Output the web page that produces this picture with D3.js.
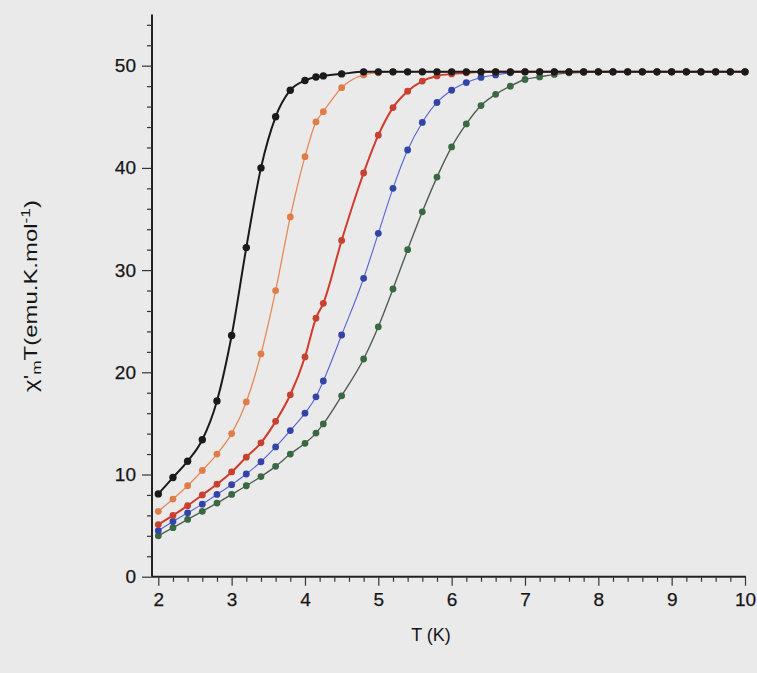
<!DOCTYPE html>
<html>
<head>
<meta charset="utf-8">
<script src="https://cdn.jsdelivr.net/npm/d3@7"></script>
<style>
  html, body { margin: 0; padding: 0; background: #eaeaea; }
  svg { display: block; }
  text { font-family: "Liberation Sans", Arial, sans-serif; fill: #161616; }
</style>
</head>
<body>
<svg id="chart" width="757" height="673"></svg>
<script>
// Temperatures (K)
const temps = [2.0,2.2,2.4,2.6,2.8,3.0,3.2,3.4,3.6,3.8,4.0,4.15,4.25,4.5,4.8,5.0,
  5.2,5.4,5.6,5.8,6.0,6.2,6.4,6.6,6.8,7.0,7.2,7.4,7.6,7.8,8.0,8.2,8.4,8.6,8.8,9.0,9.2,9.4,9.6,9.8,10.0];

// chi'm T values per series
const blackSeries = [8.1,9.7,11.3,13.4,17.2,23.6,32.2,40.0,45.0,47.6,48.55,48.9,49.0,49.2,49.4,49.4,
  49.4,49.4,49.4,49.4,49.4,49.4,49.4,49.4,49.4,49.4,49.4,49.4,49.4,49.4,49.4,49.4,49.4,49.4,49.4,49.4,49.4,49.4,49.4,49.4,49.4];
const orangeSeries = [6.4,7.6,8.9,10.4,12.0,14.0,17.1,21.8,28.0,35.2,41.1,44.5,45.5,47.85,49.1,49.3,
  49.4,49.4,49.4,49.4,49.4,49.4,49.4,49.4,49.4,49.4,49.4,49.4,49.4,49.4,49.4,49.4,49.4,49.4,49.4,49.4,49.4,49.4,49.4,49.4,49.4];
const redSeries = [5.1,6.0,6.95,8.0,9.05,10.25,11.7,13.1,15.2,17.8,21.5,25.3,26.75,32.9,39.5,43.2,
  45.9,47.5,48.5,49.0,49.2,49.3,49.4,49.4,49.4,49.4,49.4,49.4,49.4,49.4,49.4,49.4,49.4,49.4,49.4,49.4,49.4,49.4,49.4,49.4,49.4];
const blueSeries = [4.5,5.4,6.25,7.1,8.05,9.0,10.05,11.25,12.7,14.3,16.0,17.6,19.15,23.65,29.2,33.6,
  38.0,41.75,44.45,46.4,47.6,48.35,48.85,49.1,49.3,49.4,49.4,49.4,49.4,49.4,49.4,49.4,49.4,49.4,49.4,49.4,49.4,49.4,49.4,49.4,49.4];
const greenSeries = [4.0,4.8,5.6,6.4,7.2,8.05,8.9,9.8,10.8,12.0,13.05,14.05,14.95,17.7,21.3,24.45,
  28.15,32.0,35.7,39.1,42.05,44.3,46.1,47.2,48.0,48.65,48.9,49.15,49.3,49.35,49.4,49.4,49.4,49.4,49.4,49.4,49.4,49.4,49.4,49.4,49.4];

const xTicks = [2,3,4,5,6,7,8,9,10];
const yTicks = [0,10,20,30,40,50];

const seriesList = [
  {values: greenSeries,  line: "#4f5f52", dot: "#3a6842", lw: 1.4, r: 3.4},
  {values: blueSeries,   line: "#5563d0", dot: "#3443a8", lw: 1.1, r: 3.4},
  {values: redSeries,    line: "#d23a2c", dot: "#c8402f", lw: 2.0, r: 3.4},
  {values: orangeSeries, line: "#e58a5a", dot: "#e07c48", lw: 1.3, r: 3.4},
  {values: blackSeries,  line: "#1a1a1a", dot: "#1a1a1a", lw: 2.0, r: 3.7}
];

const svg = d3.select("#chart");
const x = d3.scaleLinear().domain([2, 10]).range([158.3, 745]);
const y = d3.scaleLinear().domain([0, 55]).range([576.7, 14.6]);
const axisX0 = 152; // y-axis horizontal position
const axisY0 = y(0);

function styleText(sel) {
  sel.attr("font-size", 19).attr("fill", "#161616")
    .attr("stroke", "#161616").attr("stroke-width", 0.25)
    .attr("font-family", "Liberation Sans, Arial, sans-serif");
}

// Y axis
const gy = svg.append("g").attr("transform", `translate(${axisX0},0)`);
gy.append("line").attr("x1",0).attr("x2",0).attr("y1",y(0)).attr("y2",y(55))
  .attr("stroke","#222").attr("stroke-width",2);
gy.call(g => {
  const minor = d3.axisLeft(y).tickValues(d3.range(2, 55, 2).filter(v => v % 10 !== 0))
    .tickSize(5).tickFormat("");
  const major = d3.axisLeft(y).tickValues(yTicks).tickSize(10).tickPadding(6);
  g.append("g").call(minor);
  g.append("g").call(major);
});
gy.selectAll(".domain").remove();
gy.selectAll(".tick line").attr("stroke","#333").attr("stroke-width",1.2);
gy.selectAll(".tick text").call(styleText);

// X axis
const gx = svg.append("g").attr("transform", `translate(0,${axisY0})`);
gx.append("line").attr("x1",axisX0).attr("x2",x(10)+1).attr("y1",0).attr("y2",0)
  .attr("stroke","#222").attr("stroke-width",2);
gx.call(g => {
  const minorVals = d3.range(0, 41).map(i => 2 + i * 0.2).filter(v => Math.abs(v - Math.round(v)) > 0.01);
  const minor = d3.axisBottom(x).tickValues(minorVals).tickSize(5).tickFormat("");
  const major = d3.axisBottom(x).tickValues(xTicks).tickSize(9).tickPadding(7).tickFormat(d3.format("d"));
  g.append("g").call(minor);
  g.append("g").call(major);
});
gx.selectAll(".domain").remove();
gx.selectAll(".tick line").attr("stroke","#333").attr("stroke-width",1.2);
gx.selectAll(".tick text").call(styleText);

// Axis titles
svg.append("text").attr("x", 431).attr("y", 641).attr("text-anchor","middle")
  .call(styleText).attr("font-size",18).attr("stroke-width",0).text("T (K)");

const yt = svg.append("text")
  .attr("text-anchor","middle").call(styleText).attr("font-size",18).attr("stroke-width",0);
yt.append("tspan").text("χ'");
yt.append("tspan").attr("font-size",13).attr("dy",4).text("m");
yt.append("tspan").attr("dy",-4).text("T(emu.K.mol");
yt.append("tspan").attr("font-size",13).attr("dy",-7).text("-1");
yt.append("tspan").attr("dy",7).text(")");
const ytLen = yt.node().getComputedTextLength();
const ytScale = 192 / ytLen;
yt.attr("transform", `translate(37,296) rotate(-90) scale(${ytScale},1)`);

// Series
const lineGen = d3.line().x(d => x(d.t)).y(d => y(d.v)).curve(d3.curveMonotoneX);
seriesList.forEach(s => {
  const pts = temps.map((t, i) => ({t, v: s.values[i]}));
  const g = svg.append("g");
  g.append("path").datum(pts).attr("d", lineGen)
    .attr("fill","none").attr("stroke", s.line).attr("stroke-width", s.lw);
  g.selectAll("circle").data(pts).join("circle")
    .attr("cx", d => x(d.t)).attr("cy", d => y(d.v)).attr("r", s.r)
    .attr("fill", s.dot);
});
</script>
</body>
</html>
